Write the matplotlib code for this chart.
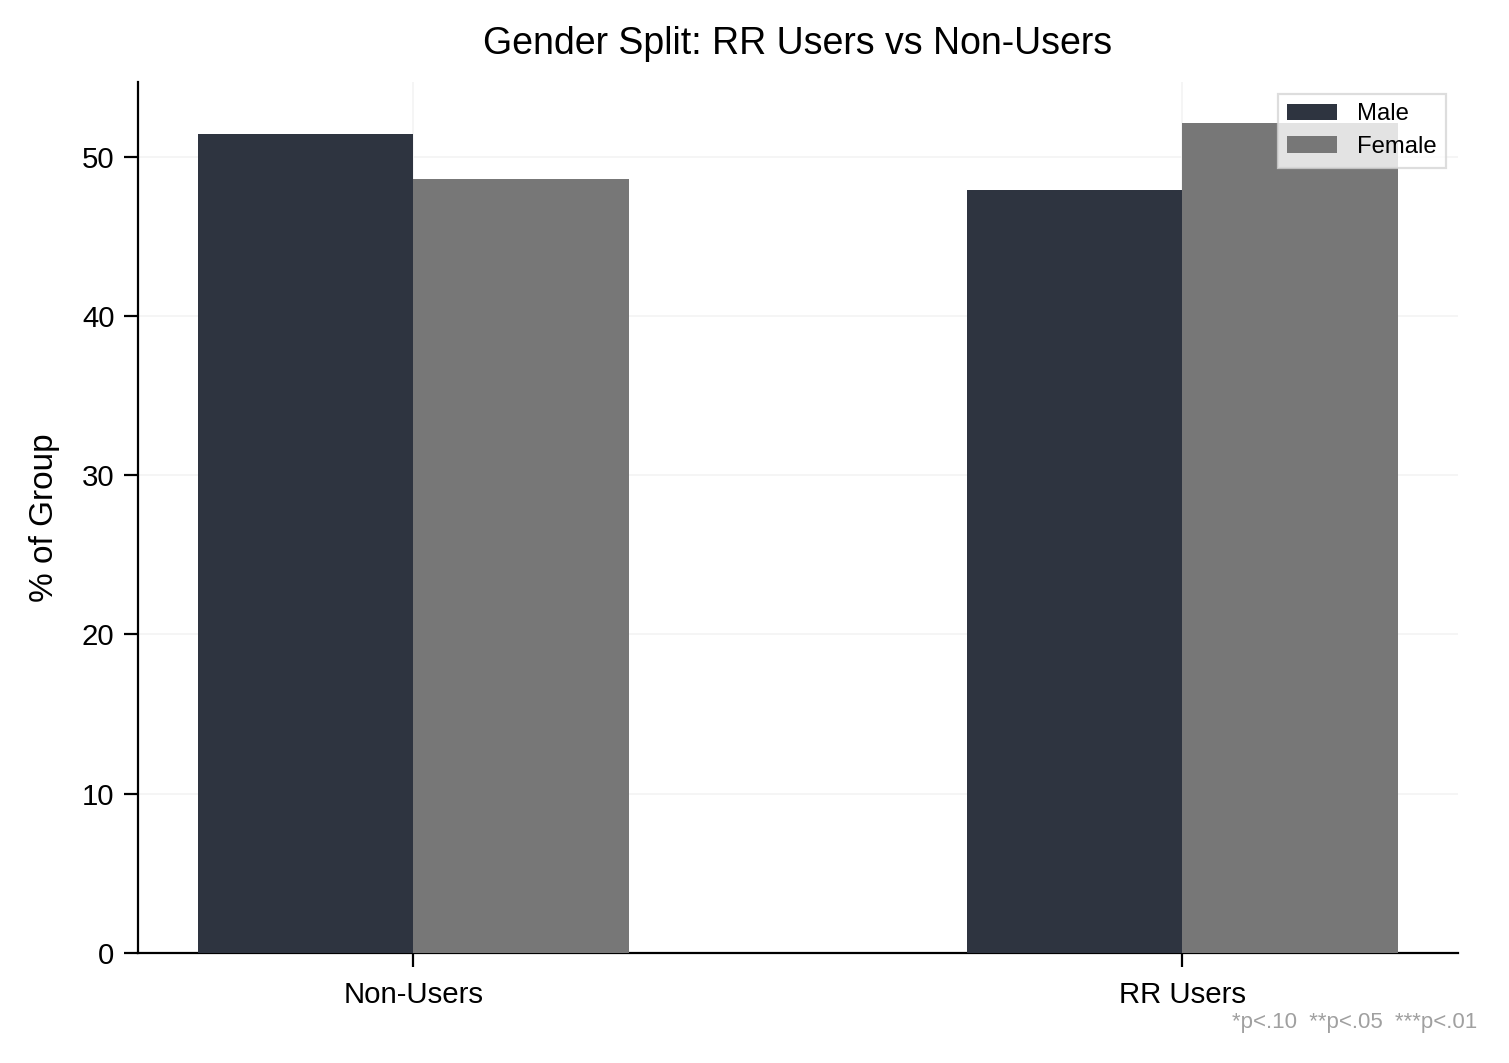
import matplotlib

matplotlib.use("Agg")
import matplotlib.pyplot as plt
import numpy as np

GROUPS = ["Non-Users", "RR Users"]
SERIES = ["Male", "Female"]
MALE = [51.4, 47.9]
FEMALE = [48.6, 52.1]

COLORS = {"Male": "#2E3440", "Female": "#777777"}


def setup_style() -> None:
    plt.rcParams.update(
        {
            "font.family": ["Liberation Sans", "DejaVu Sans"],
            "font.size": 10,
            "axes.linewidth": 0.8,
        }
    )


def main() -> None:
    setup_style()
    fig, ax = plt.subplots(figsize=(7.545, 5.315), dpi=200)

    x = np.arange(len(GROUPS))
    width = 0.28
    for i, (name, vals) in enumerate(zip(SERIES, [MALE, FEMALE])):
        offset = (i - 0.5) * width
        ax.bar(x + offset, vals, width=width, color=COLORS[name], label=name, zorder=3)

    ax.set_xticks(x)
    ax.set_xticklabels(GROUPS)
    ax.set_ylabel("% of Group", fontsize=12, labelpad=8)
    ax.set_title("Gender Split: RR Users vs Non-Users", fontsize=13.5, pad=10)
    ax.tick_params(axis="both", length=5, width=0.8, labelsize=10.6)
    ax.tick_params(axis="x", pad=5)

    ax.grid(True, color="#F4F4F4", linewidth=0.6, zorder=0)
    ax.set_axisbelow(True)
    ax.spines["top"].set_visible(False)
    ax.spines["right"].set_visible(False)

    leg = ax.legend(
        loc="upper right",
        fontsize=8.6,
        fancybox=False,
        framealpha=0.8,
        edgecolor="#D5D5D5",
        handlelength=2.1,
        borderpad=0.4,
        labelspacing=0.45,
    )
    leg.get_frame().set_linewidth(0.8)

    fig.text(0.979, 0.038, "*p<.10  **p<.05  ***p<.01", ha="right", va="center",
             fontsize=8, color="#A0A0A0")

    fig.subplots_adjust(left=0.0915, right=0.966, bottom=0.1035, top=0.923)
    fig.savefig("out.png", dpi=200)
    plt.close(fig)


if __name__ == "__main__":
    main()
